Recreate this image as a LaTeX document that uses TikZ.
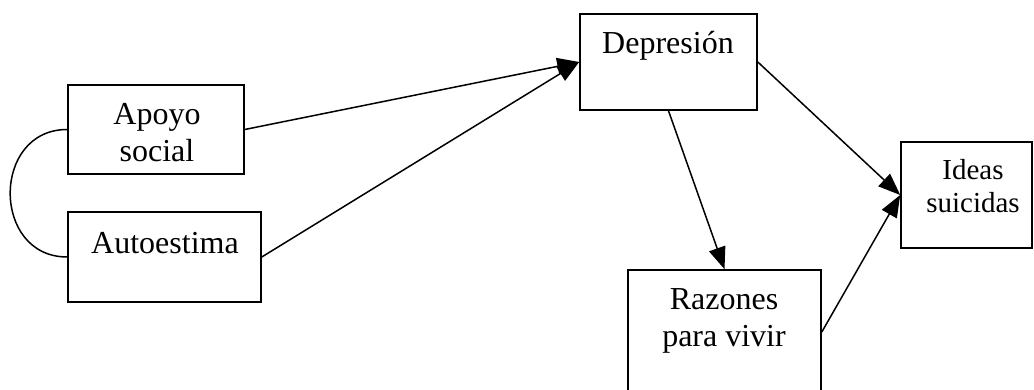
\documentclass[tikz,border=0pt]{standalone}
\usepackage{fontspec}
\setmainfont{Liberation Serif}
\usetikzlibrary{arrows.meta}
\begin{document}
\begin{tikzpicture}[x=1pt,y=1pt,
  box/.style={draw, line width=1.6pt, inner sep=0pt, minimum width=#1},
  box/.default=176pt,
  lbl/.style={inner sep=0pt, align=center, font=\fontsize{32}{37}\selectfont},
  conn/.style={line width=1.5pt, -{Triangle[length=22pt,width=17pt]}}]
\useasboundingbox (0,0) rectangle (1034,390);
\clip (0,0) rectangle (1034,390);

% boxes
\node[box=176pt, minimum height=89pt] (apoyo) at (156,260.5) {};
\node[box=193pt, minimum height=90pt] (autoestima) at (164.5,133) {};
\node[box=177pt, minimum height=96pt] (depresion) at (668.5,328) {};
\node[box=131pt, minimum height=106pt] (ideas) at (966.5,195) {};
\node[box=193pt, minimum height=124pt] (razones) at (724.5,58) {};

% labels (base anchor sits on the last line)
\node[lbl, anchor=base] (apoyoT) at (157,228) {Apoyo\\social};
\node[lbl, anchor=base] (autoestimaT) at (165,136) {Autoestima};
\node[lbl, anchor=base] (depresionT) at (668,336) {Depresión};
\node[lbl, anchor=base, font=\fontsize{29}{33}\selectfont] (ideasT) at (973,177) {Ideas\\suicidas};
\node[lbl, anchor=base] (razonesT) at (724,43) {Razones\\para vivir};

% correlation between the two predictors
\draw[line width=1.5pt] (apoyo.west) .. controls +(-76,0) and +(-76,0) .. (autoestima.west);

% paths
\draw[conn] (apoyo.east) -- (depresion.west);
\draw[conn] (autoestima.east) -- (depresion.west);
\draw[conn] (depresion.east) -- (ideas.west);
\draw[conn] (depresion.south) -- (razones.north);
\draw[conn] (razones.east) -- (ideas.west);
\end{tikzpicture}
\end{document}
